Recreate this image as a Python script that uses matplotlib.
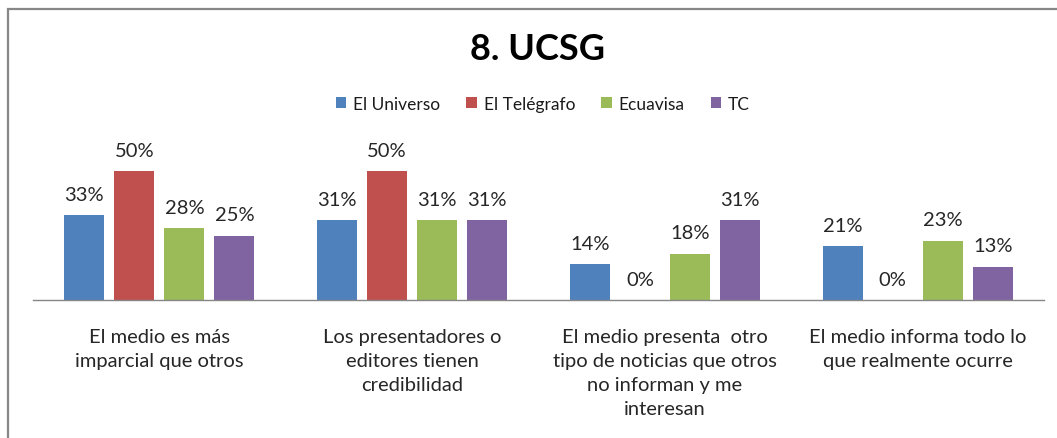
import numpy as np
import matplotlib
matplotlib.use('Agg')
from matplotlib import pyplot as plt
from matplotlib.patches import Rectangle

plt.rcParams['font.family'] = ['Lato', 'DejaVu Sans']

# Chart data
categories = ['El medio es más\nimparcial que otros',
              'Los presentadores o\neditores tienen\ncredibilidad',
              'El medio presenta  otro\ntipo de noticias que otros\nno informan y me\ninteresan',
              'El medio informa todo lo\nque realmente ocurre']
series_names = ['El Universo', 'El Telégrafo', 'Ecuavisa', 'TC']
el_universo = [33, 31, 14, 21]
el_telegrafo = [50, 50, 0, 0]
ecuavisa = [28, 31, 18, 23]
tc = [25, 31, 31, 13]
colors = ['#4F81BD', '#C0504D', '#9BBB59', '#8064A2']

W, H = 1057, 439
fig = plt.figure(figsize=(W / 100, H / 100), dpi=100)
fig.patch.set_facecolor('white')

# axes placed in pixel terms
ax = fig.add_axes([33 / W, (H - 301) / H, 1011 / W, 154.4 / H])

x = np.arange(len(categories))
step = 0.198
width = 0.158
for i, (name, vals) in enumerate(zip(series_names, [el_universo, el_telegrafo, ecuavisa, tc])):
    pos = x + (i - 1.5) * step
    ax.bar(pos, vals, width, color=colors[i], label=name, zorder=2)
    for p, v in zip(pos, vals):
        ax.annotate(f'{v}%', (p, v), xytext=(0, 15), textcoords='offset points',
                    ha='center', va='center', fontsize=14.5, color='#262626')

ax.set_xlim(-0.5, len(categories) - 0.5)
ax.set_ylim(0, 60)
ax.set_yticks([])
ax.set_xticks(x)
ax.set_xticklabels(categories, fontsize=14.5, color='#262626', linespacing=1.5,
                   va='top')
ax.tick_params(axis='x', length=0, pad=20)
for s in ['top', 'left', 'right']:
    ax.spines[s].set_visible(False)
ax.spines['bottom'].set_color('#868686')
ax.spines['bottom'].set_linewidth(1.0)
ax.set_facecolor('none')

fig.text(538 / W, 1 - 50 / H, '8. UCSG', ha='center', va='center',
         fontsize=26, fontweight='bold', color='black')

fig.legend(loc='center', bbox_to_anchor=(543 / W, 1 - 105 / H), ncol=4,
           frameon=False, fontsize=12.5, handlelength=0.6, handleheight=0.6,
           handletextpad=0.4, columnspacing=1.5, labelcolor='#1a1a1a')

# chart frame (cut off at right and bottom)
fig.patches.append(Rectangle((8 / W, -0.1), 1.2, 1.1 - 10 / H, fill=False,
                             edgecolor='#878787', linewidth=1.6,
                             transform=fig.transFigure, figure=fig))

fig.savefig('out.png', dpi=100, facecolor='white')
